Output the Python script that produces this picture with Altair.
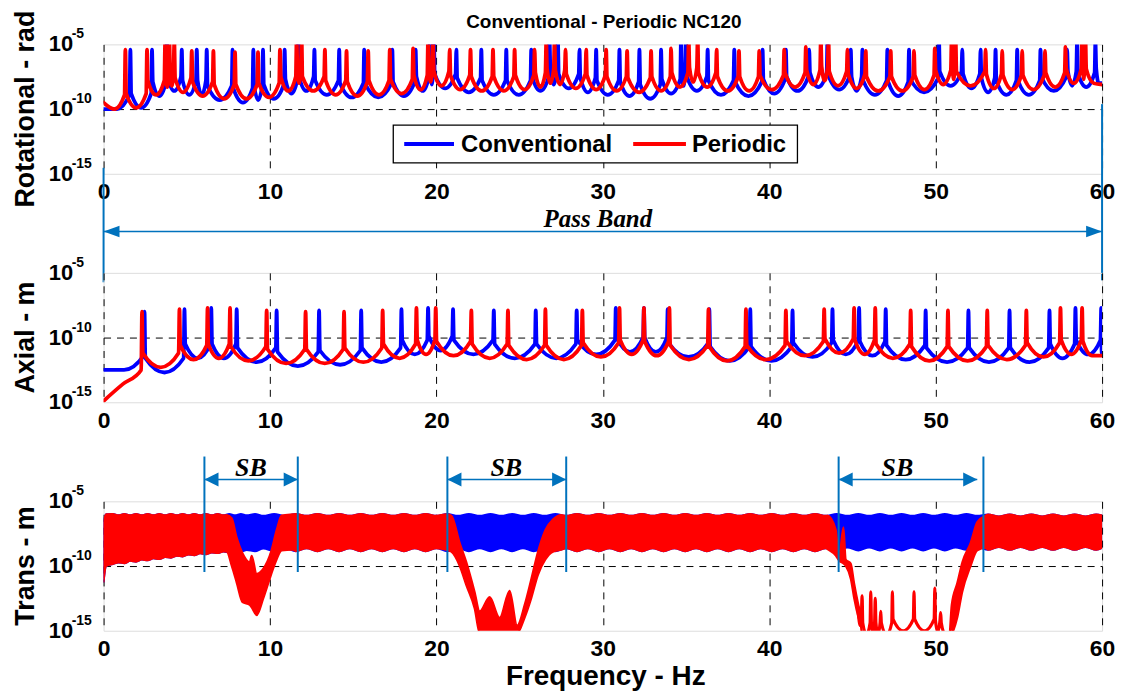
import altair as alt
import pandas as pd

FONT = "Liberation Sans"
SERIF = "Liberation Serif"
BLUE = "#0000FF"
RED = "#FF0000"
ANN = "#0072BD"

series_names = ["Conventional", "Periodic"]
chart_title = "Conventional - Periodic NC120"
panel_titles = ["Rotational - rad", "Axial - m", "Trans - m"]
x_title = "Frequency - Hz"
x_ticks = [0, 10, 20, 30, 40, 50, 60]
y_tick_values = [1e-5, 1e-10, 1e-15]
y_tick_base = ["10", "10", "10"]
y_tick_exp = ["-5", "-10", "-15"]

# ---------------- Rotational panel (log10 exponents) ----------------
rot_per_peaks = [1.31, 2.61, 3.70, 3.95, 4.25, 5.30, 6.60, 7.90, 9.28, 10.60, 11.60, 11.90, 13.30, 14.60,
                 15.90, 17.20, 18.60, 19.50, 19.80, 20.80, 22.05, 23.40, 24.70, 25.90, 26.60, 27.10, 27.76,
                 29.00, 30.20, 31.46, 32.90, 34.10, 35.16, 35.70, 36.84, 38.18, 39.40, 40.90, 42.20, 43.10,
                 43.56, 44.70, 45.80, 47.30, 48.70, 49.95, 50.96, 51.20, 53.00, 54.00, 55.20, 56.57, 57.80,
                 58.80, 59.00]
rot_per_tops = [-5.4, -5.4, -4.8, -4.5, -4.8, -5.5, -5.5, -5.6, -5.6, -5.4, -4.6, -4.5, -5.4, -5.5,
                -5.5, -5.4, -5.3, -4.6, -4.5, -5.4, -5.4, -5.4, -5.4, -5.4, -4.8, -4.6, -5.4,
                -5.4, -5.4, -5.5, -5.5, -5.3, -4.6, -4.5, -5.4, -5.5, -5.5, -5.4, -5.2, -4.6,
                -4.5, -5.4, -5.5, -5.5, -5.5, -5.3, -4.6, -4.5, -5.4, -5.5, -5.5, -5.5, -5.2,
                -4.6, -4.5]
rot_per_troughs = [-10.0, -9.9, -8.9, -8.3, -8.2, -8.7, -9.0, -9.2, -9.2, -9.1, -8.6, -8.0, -8.6, -8.9,
                   -9.0, -8.9, -8.8, -8.5, -7.9, -8.2, -8.5, -8.6, -8.6, -8.5, -8.3, -8.0, -8.1,
                   -8.4, -8.5, -8.6, -8.7, -8.6, -8.3, -7.9, -8.3, -8.6, -8.6, -8.5, -8.3, -8.1,
                   -7.8, -8.2, -8.4, -8.6, -8.6, -8.5, -8.1, -7.7, -8.2, -8.4, -8.5, -8.5, -8.3,
                   -8.0, -7.7, -8.0]
rot_per_ends = [-9.5, -8.1]

rot_conv_peaks = [1.61, 2.91, 3.80, 4.70, 5.60, 6.20, 7.75, 9.00, 9.58, 10.88, 11.70, 12.67, 14.16, 15.66,
                  17.35, 18.75, 19.60, 19.85, 21.20, 22.70, 24.20, 25.70, 26.80, 27.30, 28.60, 29.60, 31.00,
                  32.20, 33.50, 34.70, 35.00, 36.30, 37.90, 39.60, 41.00, 42.40, 43.50, 44.90, 45.60, 47.10,
                  48.40, 50.20, 51.60, 52.70, 53.60, 54.90, 56.30, 57.90, 58.50, 59.60]
rot_conv_tops = [-5.4, -5.4, -4.6, -5.4, -5.4, -5.4, -5.4, -5.4, -5.4, -5.4, -4.8, -5.4, -5.4, -5.4,
                 -5.4, -5.4, -4.6, -4.5, -5.4, -5.4, -5.4, -5.4, -4.7, -4.6, -5.4, -5.4, -5.4,
                 -5.4, -5.4, -4.6, -4.5, -5.4, -5.4, -5.4, -5.4, -5.4, -4.6, -5.4, -5.4, -5.4,
                 -5.4, -4.6, -5.4, -5.4, -5.4, -5.4, -5.4, -5.4, -4.6, -4.8]
rot_conv_troughs = [-10.0, -9.9, -9.0, -8.6, -8.9, -8.9, -9.3, -9.5, -9.3, -9.2, -8.8, -8.6, -8.9, -9.1,
                    -9.1, -9.0, -8.6, -8.1, -8.4, -8.7, -8.9, -8.9, -8.6, -8.1, -8.4, -8.7, -8.9,
                    -9.0, -9.2, -8.8, -8.2, -8.6, -8.9, -9.0, -8.8, -8.6, -8.3, -8.5, -8.6, -8.9,
                    -9.0, -8.7, -8.2, -8.4, -8.7, -8.9, -8.9, -8.6, -8.2, -8.3, -8.0]
rot_conv_ends = [-10.0, -8.0]

# ---------------- Axial panel ----------------
ax_per_peaks = [2.31, 4.56, 6.25, 7.60, 9.80, 12.14, 14.45, 16.77, 18.80, 19.96, 22.10, 24.30, 26.55,
                28.77, 31.00, 32.47, 34.00, 36.35, 38.60, 41.00, 43.30, 45.10, 46.37, 48.50, 50.74,
                53.10, 55.45, 57.50, 58.80]
ax_per_tops = [-8.0, -7.8, -7.7, -7.7, -7.9, -8.0, -8.0, -7.9, -7.7, -7.7, -7.9, -7.9, -7.8,
               -7.9, -7.7, -7.7, -7.7, -7.8, -7.8, -7.9, -7.8, -7.7, -7.7, -7.9, -7.9,
               -7.9, -7.9, -7.7, -7.7]
ax_per_troughs = [-13.6, -12.3, -11.7, -11.6, -11.8, -12.0, -12.0, -11.9, -11.6, -11.3, -11.4, -11.6, -11.7,
                  -11.7, -11.5, -11.3, -11.4, -11.7, -11.8, -11.7, -11.4, -11.2, -11.3, -11.6, -11.8,
                  -11.8, -11.7, -11.5, -11.3, -11.4]
ax_per_ends = [-14.9, -11.4]

ax_conv_peaks = [2.46, 4.86, 6.47, 8.00, 10.40, 12.95, 15.48, 17.90, 19.50, 21.00, 23.45, 25.97, 28.43,
                 30.78, 32.47, 33.90, 36.40, 38.86, 41.40, 43.80, 45.40, 47.00, 49.40, 51.97, 54.44,
                 56.84, 58.40, 59.95]
ax_conv_tops = [-8.0, -7.8, -7.7, -7.8, -7.9, -7.9, -7.9, -7.8, -7.7, -7.8, -7.9, -7.9, -7.9,
                -7.7, -7.7, -7.8, -7.8, -7.8, -7.9, -7.8, -7.7, -7.8, -7.9, -7.9, -7.9,
                -7.9, -7.7, -7.7]
ax_conv_troughs = [-12.5, -12.7, -11.6, -11.6, -11.9, -12.2, -12.1, -11.9, -11.3, -11.0, -11.3, -11.6, -11.6,
                   -11.3, -11.1, -11.1, -11.5, -11.8, -11.8, -11.5, -11.3, -11.4, -11.7, -11.9, -11.9,
                   -11.9, -11.6, -11.3, -11.2]
ax_conv_ends = [-12.5, -11.0]

# ---------------- Translational panel: envelopes of the dense oscillation ----------------
tr_conv_f = [0, 0.15, 0.55, 0.9, 1.25, 1.6, 1.95, 2.3, 2.65, 3.0,
             3.35, 3.7, 4.05, 4.4, 4.75, 5.1, 5.45, 5.8, 6.15, 6.5,
             6.85, 7.2, 7.55, 7.9, 8.25, 8.6, 9.1, 9.6, 10.25, 10.9,
             11.55, 12.2, 12.85, 13.5, 14.15, 14.8, 15.45, 16.1, 16.75, 17.4,
             18.05, 18.7, 19.35, 20.0, 20.65, 21.3, 21.95, 22.6, 23.25, 23.9,
             24.55, 25.2, 25.85, 26.5, 27.15, 27.8, 28.45, 29.1, 29.75, 30.4,
             31.05, 31.7, 32.35, 33.0, 33.65, 34.3, 34.95, 35.6, 36.25, 36.9,
             37.55, 38.2, 38.85, 39.5, 40.15, 40.8, 41.45, 42.1, 42.75, 43.4,
             44.05, 44.7, 45.35, 46.0, 46.65, 47.3, 47.95, 48.6, 49.25, 49.9,
             50.55, 51.2, 51.85, 52.5, 53.15, 53.8, 54.45, 55.1, 55.75, 56.4,
             57.05, 57.7, 58.35, 59.0, 59.65, 60.0]
tr_conv_hi = [-6.6, -6.0, -5.98, -6.08, -5.98, -6.08, -5.98, -6.08, -5.98, -6.08,
              -5.98, -6.08, -5.98, -6.08, -5.98, -6.08, -5.98, -6.08, -5.98, -6.08,
              -5.98, -6.08, -5.98, -6.08, -5.98, -6.08, -5.98, -6.12, -5.98, -6.12,
              -5.98, -6.12, -5.98, -6.12, -5.98, -6.12, -5.98, -6.12, -5.98, -6.12,
              -5.98, -6.12, -5.98, -6.12, -5.98, -6.12, -5.98, -6.12, -5.98, -6.12,
              -5.98, -6.12, -5.98, -6.12, -5.98, -6.12, -5.98, -6.12, -5.98, -6.12,
              -5.98, -6.12, -5.98, -6.12, -5.98, -6.12, -5.98, -6.12, -5.98, -6.12,
              -5.98, -6.12, -5.98, -6.12, -5.98, -6.12, -5.98, -6.12, -5.98, -6.12,
              -5.98, -6.12, -5.98, -6.12, -5.98, -6.12, -5.98, -6.12, -5.98, -6.12,
              -5.98, -6.12, -5.98, -6.12, -6.02, -6.18, -6.02, -6.18, -6.02, -6.18,
              -6.02, -6.18, -6.02, -6.18, -6.02, -6.1]
tr_conv_lo = [-11.2, -10.0, -9.85, -9.72, -9.78, -9.6, -9.66, -9.5, -9.56, -9.4,
              -9.46, -9.3, -9.36, -9.2, -9.26, -9.1, -9.16, -9.02, -9.08, -8.95,
              -9.0, -8.88, -8.95, -8.82, -8.9, -8.76, -8.86, -8.64, -8.85, -8.62,
              -8.85, -8.62, -8.85, -8.62, -8.85, -8.62, -8.85, -8.62, -8.85, -8.62,
              -8.85, -8.62, -8.85, -8.62, -8.85, -8.62, -8.85, -8.62, -8.85, -8.62,
              -8.85, -8.62, -8.85, -8.62, -8.85, -8.62, -8.85, -8.62, -8.85, -8.62,
              -8.85, -8.62, -8.85, -8.62, -8.85, -8.62, -8.85, -8.62, -8.85, -8.62,
              -8.85, -8.62, -8.85, -8.62, -8.85, -8.62, -8.85, -8.62, -8.85, -8.62,
              -8.8, -8.56, -8.8, -8.56, -8.8, -8.56, -8.8, -8.56, -8.8, -8.56,
              -8.8, -8.56, -8.75, -8.52, -8.75, -8.52, -8.75, -8.52, -8.75, -8.52,
              -8.75, -8.52, -8.75, -8.52, -8.75, -8.6]

# periodic structure: same band outside the stop bands, these values inside them
tr_per_sb_ranges = [(7.3, 11.5), (20.5, 27.6), (43.45, 53.1)]
tr_per_sb_f = [7.4, 7.7, 8.0, 8.35, 8.78, 8.9, 9.2, 9.6, 10.06, 10.4, 10.7, 11.35,
               20.6, 20.9, 21.4, 21.8, 22.3, 22.6, 23.2, 23.8, 24.4, 24.85, 25.3, 25.7, 26.1, 26.55, 27.0, 27.5,
               43.5, 44.0, 44.2, 44.46, 44.6, 44.9, 45.1, 45.36, 45.5, 45.6, 50.8, 50.96, 51.3, 51.6, 52.1,
               52.5, 53.0]
tr_per_sb_hi = [-6.05, -6.3, -7.8, -9.0, -9.7, -9.2, -10.6, -10.2, -8.9, -7.2, -6.1, -6.0,
                -6.0, -6.1, -8.2, -9.7, -12.0, -13.5, -12.4, -14.0, -11.9, -14.6, -13.0, -11.0, -8.9, -7.2,
                -6.4, -6.05,
                -6.1, -7.2, -9.2, -7.0, -9.5, -9.8, -11.3, -13.0, -13.8, -15.6, -15.6, -13.0, -11.3, -9.7,
                -8.2, -6.6, -6.1]
tr_per_sb_lo = [-8.9, -10.0, -11.3, -12.8, -13.0, -13.2, -13.8, -12.5, -10.7, -9.5, -8.8, -8.75,
                -8.75, -8.9, -10.0, -11.5, -13.3, -15.2, -15.2, -15.2, -15.2, -15.2, -14.0, -12.5, -10.7,
                -9.5, -8.9, -8.75,
                -8.7, -9.2, -9.6, -9.8, -10.0, -11.0, -12.5, -14.0, -14.6, -15.6, -15.6, -15.3, -14.0,
                -12.0, -10.0, -8.8, -8.6]

# periodic response inside the third stop band (isolated resonances)
sb3_per_peaks = [45.58, 46.10, 46.37, 46.70, 47.40, 48.70, 49.95, 50.30]
sb3_per_tops = [-12.3, -12.0, -12.5, -13.5, -12.0, -12.0, -11.7, -13.6]
sb3_per_troughs = [-14.6, -15.3, -15.3, -15.3, -15.3, -15.0, -15.0, -15.1, -15.3]
sb3_per_range = [45.35, 50.85]
sb3_per_ends = [-13.6, -15.4]

# ---------------- Annotations ----------------
pass_band = [0, 60]
pass_band_label = "Pass Band"
pass_band_label_f = 29.7
sb_left = [6.06, 20.66, 44.17]
sb_right = [11.67, 27.80, 52.87]
sb_arrow_right = [11.67, 27.80, 52.50]
sb_label_f = [8.85, 24.2, 47.7]
sb_label = "SB"

W, H = 1003, 130

XS = alt.Scale(domain=[0, 60], nice=False, zero=False)
YS = alt.Scale(type="log", domain=[1e-15, 1e-5], nice=False)
XAX = alt.Axis(values=x_ticks, grid=True, gridDash=[7, 6], gridColor="#000000", gridWidth=1,
               gridOpacity=1, labelFontSize=23, labelFontWeight="bold", labelFont=FONT,
               labelColor="#000000", labelPadding=7, ticks=False, domain=False, title=None,
               labelAngle=0, format="d", labelFlush=False)
YAX = alt.Axis(values=[1e-10], grid=True, gridDash=[7, 6], gridColor="#000000", gridWidth=1,
               gridOpacity=1, labels=False, ticks=False, domain=False, title=None)


def xq(field):
    return alt.X(field, type="quantitative", scale=XS, axis=XAX)


def yq(field):
    return alt.Y(field, type="quantitative", scale=YS, axis=YAX)


def curve(peaks, tops, troughs, ends, rng=(0.0, 60.0), foot=1.1, w=0.05):
    assert len(peaks) == len(tops) and len(troughs) == len(peaks) + 1
    edges = [rng[0]] + list(peaks) + [rng[1]]
    pts = [(rng[0], ends[0])]
    for i in range(len(troughs)):
        pts.append(((edges[i] + edges[i + 1]) / 2.0, troughs[i]))
        if i < len(peaks):
            f, t = peaks[i], tops[i]
            pts.append((f - w, min(troughs[i] + foot, t)))
            pts.append((f, t))
            pts.append((f + w, min(troughs[i + 1] + foot, t)))
    pts.append((rng[1], ends[1]))
    return pd.DataFrame({"f": [p[0] for p in pts], "v": [10 ** p[1] for p in pts]})


def line_layer(df, color, width=3.8):
    return alt.Chart(df).mark_line(color=color, strokeWidth=width, interpolate="monotone",
                                   clip=True, strokeJoin="round", strokeCap="round").encode(
        x=xq("f"), y=yq("v"), order="f:Q")


def band_df(f, hi, lo):
    assert len(f) == len(hi) == len(lo)
    return pd.DataFrame({"f": f, "hi": [10 ** v for v in hi], "lo": [10 ** v for v in lo]})


def band_layer(df, color):
    return alt.Chart(df).mark_area(color=color, opacity=1, stroke=color, strokeWidth=2.0,
                                   strokeJoin="round", interpolate="monotone", clip=True).encode(
        x=xq("f"), y=yq("hi"), y2="lo:Q")


def y_labels():
    df = pd.DataFrame({"v": y_tick_values, "b": y_tick_base, "e": y_tick_exp})
    base = alt.Chart(df).mark_text(font=FONT, fontSize=22, fontWeight="bold", align="left",
                                   baseline="middle", color="#000").encode(
        x=alt.value(-55), y=yq("v"), text="b:N")
    exp = alt.Chart(df).mark_text(font=FONT, fontSize=14, fontWeight="bold", align="left",
                                  baseline="middle", color="#000", dy=-10).encode(
        x=alt.value(-32), y=yq("v"), text="e:N")
    return [base, exp]


def y_title(txt):
    df = pd.DataFrame({"t": [txt]})
    return alt.Chart(df).mark_text(font=FONT, fontSize=27, fontWeight="bold", angle=270,
                                   align="center", baseline="alphabetic", color="#000").encode(
        x=alt.value(-70), y=alt.value(H / 2), text="t:N")


# ---------------- Panel 1 ----------------
legend_df = pd.DataFrame({"name": series_names})
legend_box = alt.Chart(legend_df.head(1)).mark_rect(fill="white", stroke="black", strokeWidth=1.3).encode(
    x=alt.value(291), x2=alt.value(697), y=alt.value(81), y2=alt.value(119))
legend_l1 = alt.Chart(legend_df.head(1)).mark_rule(color=BLUE, strokeWidth=4).encode(
    x=alt.value(302), x2=alt.value(352), y=alt.value(100))
legend_t1 = alt.Chart(legend_df.head(1)).mark_text(font=FONT, fontSize=24, fontWeight="bold",
                                                   align="left", baseline="middle", color="#000").encode(
    x=alt.value(359), y=alt.value(101), text="name:N")
legend_l2 = alt.Chart(legend_df.tail(1)).mark_rule(color=RED, strokeWidth=4).encode(
    x=alt.value(532), x2=alt.value(585), y=alt.value(100))
legend_t2 = alt.Chart(legend_df.tail(1)).mark_text(font=FONT, fontSize=24, fontWeight="bold",
                                                   align="left", baseline="middle", color="#000").encode(
    x=alt.value(591), y=alt.value(101), text="name:N")

title_df = pd.DataFrame({"t": [chart_title]})
title_mark = alt.Chart(title_df).mark_text(font=FONT, fontSize=19, fontWeight="bold", align="center",
                                           baseline="alphabetic", color="#000").encode(
    x=alt.value(W / 2 + 1), y=alt.value(-16), text="t:N")

pb_df = pd.DataFrame({"a": [pass_band[0]], "b": [pass_band[1]]})
pb_rule = alt.Chart(pb_df).mark_rule(color=ANN, strokeWidth=1.5).encode(
    x=xq("a"), x2="b:Q", y=alt.value(188))
pb_left_v = alt.Chart(pd.DataFrame({"f": [pass_band[0]]})).mark_rule(color=ANN, strokeWidth=2).encode(
    x=xq("f"), y=alt.value(124), y2=alt.value(239))
pb_right_v = alt.Chart(pd.DataFrame({"f": [pass_band[1]]})).mark_rule(color=ANN, strokeWidth=2).encode(
    x=xq("f"), y=alt.value(60), y2=alt.value(237))
pb_head_l = alt.Chart(pd.DataFrame({"f": [pass_band[0]]})).mark_point(
    shape="M0,0L2,-0.73L2,0.73Z", filled=True, size=256, color=ANN, opacity=1).encode(
    x=xq("f"), y=alt.value(188))
pb_head_r = alt.Chart(pd.DataFrame({"f": [pass_band[1]]})).mark_point(
    shape="M0,0L-2,-0.73L-2,0.73Z", filled=True, size=256, color=ANN, opacity=1).encode(
    x=xq("f"), y=alt.value(188))
pb_text = alt.Chart(pd.DataFrame({"f": [pass_band_label_f], "t": [pass_band_label]})).mark_text(
    font=SERIF, fontSize=25, fontWeight="bold", fontStyle="italic", align="center",
    baseline="alphabetic", color="#000").encode(x=xq("f"), y=alt.value(183), text="t:N")

panel1 = alt.layer(
    line_layer(curve(rot_conv_peaks, rot_conv_tops, rot_conv_troughs, rot_conv_ends), BLUE),
    line_layer(curve(rot_per_peaks, rot_per_tops, rot_per_troughs, rot_per_ends), RED),
    *y_labels(), y_title(panel_titles[0]), title_mark,
    legend_box, legend_l1, legend_t1, legend_l2, legend_t2,
    pb_rule, pb_left_v, pb_right_v, pb_head_l, pb_head_r, pb_text,
).properties(width=W, height=H)

# ---------------- Panel 2 ----------------
panel2 = alt.layer(
    line_layer(curve(ax_conv_peaks, ax_conv_tops, ax_conv_troughs, ax_conv_ends), BLUE),
    line_layer(curve(ax_per_peaks, ax_per_tops, ax_per_troughs, ax_per_ends), RED),
    *y_labels(), y_title(panel_titles[1]),
).properties(width=W, height=H)

# ---------------- Panel 3 ----------------
conv_band = band_df(tr_conv_f, tr_conv_hi, tr_conv_lo)
sb_band = band_df(tr_per_sb_f, tr_per_sb_hi, tr_per_sb_lo)
outside = conv_band[~conv_band["f"].apply(lambda v: any(a < v < b for a, b in tr_per_sb_ranges))]
per_band = pd.concat([outside, sb_band]).sort_values("f").reset_index(drop=True)

sb_df = pd.DataFrame({"l": sb_left, "r": sb_right, "ar": sb_arrow_right, "c": sb_label_f,
                      "t": [sb_label] * len(sb_left)})
sb_lv = alt.Chart(sb_df).mark_rule(color=ANN, strokeWidth=2).encode(
    x=xq("l"), y=alt.value(-45), y2=alt.value(71))
sb_rv = alt.Chart(sb_df).mark_rule(color=ANN, strokeWidth=2).encode(
    x=xq("r"), y=alt.value(-45), y2=alt.value(71))
sb_arrow = alt.Chart(sb_df).mark_rule(color=ANN, strokeWidth=1.5).encode(
    x=xq("l"), x2="ar:Q", y=alt.value(-22))
sb_head_l = alt.Chart(sb_df).mark_point(shape="M0,0L2,-1L2,1Z", filled=True, size=200, color=ANN,
                                        opacity=1).encode(x=xq("l"), y=alt.value(-22))
sb_head_r = alt.Chart(sb_df).mark_point(shape="M0,0L-2,-1L-2,1Z", filled=True, size=200, color=ANN,
                                        opacity=1).encode(x=xq("ar"), y=alt.value(-22))
sb_text = alt.Chart(sb_df).mark_text(font=SERIF, fontSize=26, fontWeight="bold", fontStyle="italic",
                                     align="center", baseline="alphabetic", color="#000").encode(
    x=xq("c"), y=alt.value(-25), text="t:N")
xt_df = pd.DataFrame({"t": [x_title]})
x_title_mark = alt.Chart(xt_df).mark_text(font=FONT, fontSize=28, fontWeight="bold", align="center",
                                          baseline="alphabetic", color="#000").encode(
    x=alt.value(W / 2 + 3), y=alt.value(H + 55), text="t:N")

panel3 = alt.layer(
    band_layer(conv_band, BLUE),
    band_layer(per_band, RED),
    line_layer(curve(sb3_per_peaks, sb3_per_tops, sb3_per_troughs, sb3_per_ends,
                     rng=sb3_per_range, foot=0.9, w=0.04), RED, width=3.2),
    *y_labels(), y_title(panel_titles[2]),
    sb_lv, sb_rv, sb_arrow, sb_head_l, sb_head_r, sb_text, x_title_mark,
).properties(width=W, height=H)

chart = alt.vconcat(panel1, panel2, panel3, spacing=99.5, bounds="flush").properties(
    padding={"left": 3, "top": 0, "right": 2, "bottom": 2}
).configure_view(stroke="#000000", strokeWidth=1.6).configure(background="white")

chart.save("out.html", embed_options={"renderer": "svg", "actions": False})
